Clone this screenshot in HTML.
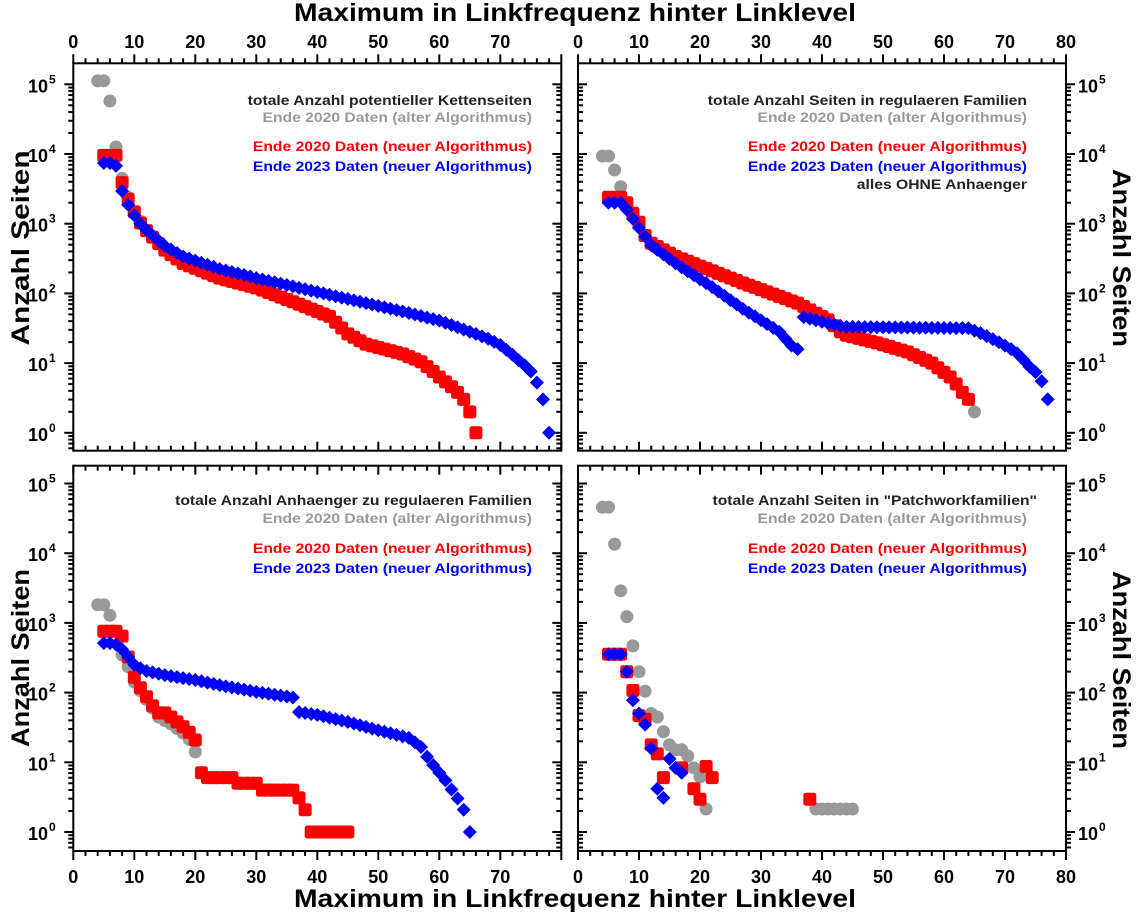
<!DOCTYPE html>
<html><head><meta charset="utf-8"><style>
html,body{margin:0;padding:0;background:#fff;}
svg{display:block;font-family:"Liberation Sans",sans-serif;font-weight:bold;}
</style></head><body>
<svg id="s" width="1136" height="916" viewBox="0 0 1136 916" xmlns="http://www.w3.org/2000/svg">
<text x="575" y="21" font-size="25" text-anchor="middle" textLength="562" lengthAdjust="spacingAndGlyphs">Maximum in Linkfrequenz hinter Linklevel</text>
<text x="575" y="907" font-size="25" text-anchor="middle" textLength="562" lengthAdjust="spacingAndGlyphs">Maximum in Linkfrequenz hinter Linklevel</text>
<text transform="translate(29,248) rotate(-90)" font-size="25" text-anchor="middle" textLength="195" lengthAdjust="spacingAndGlyphs">Anzahl Seiten</text>
<text transform="translate(29,658) rotate(-90)" font-size="25" text-anchor="middle" textLength="178" lengthAdjust="spacingAndGlyphs">Anzahl Seiten</text>
<text transform="translate(1113,258) rotate(90)" font-size="25" text-anchor="middle" textLength="178" lengthAdjust="spacingAndGlyphs">Anzahl Seiten</text>
<text transform="translate(1113,660) rotate(90)" font-size="25" text-anchor="middle" textLength="178" lengthAdjust="spacingAndGlyphs">Anzahl Seiten</text>
<g id="g"></g>
</svg>
<script>
var NS="http://www.w3.org/2000/svg",G=document.getElementById('g');
function el(t,a,txt){var e=document.createElementNS(NS,t);for(var k in a)e.setAttribute(k,a[k]);if(txt!=null)e.textContent=txt;G.appendChild(e);return e;}
var XU=6.1,DEC=69.7;
var P=[
 {x0:73.3,y0:63.3,y1:450.7,y10:432.8,top:1,left:1},
 {x0:578,y0:63.3,y1:450.7,y10:432.8,top:1,left:0},
 {x0:73.3,y0:465.7,y1:851,y10:832,top:0,left:1},
 {x0:578,y0:465.7,y1:851,y10:832,top:0,left:0}];
function line(x1,y1,x2,y2){el('line',{x1:x1,y1:y1,x2:x2,y2:y2,stroke:'#000','stroke-width':2});}
P.forEach(function(p,i){
 var x1=p.x0+80*XU;
 el('rect',{x:p.x0,y:p.y0,width:x1-p.x0,height:p.y1-p.y0,fill:'none',stroke:'#000','stroke-width':2});
 for(var v=0;v<=80;v+=2){var x=p.x0+v*XU,L=(v%10==0)?9:5;
  if(p.top){line(x,p.y0,x,p.y0-L);line(x,p.y1,x,p.y1-L);}
  else{line(x,p.y0,x,p.y0+L);line(x,p.y1,x,p.y1+L);}
  if(v%10==0 && !(p.left && v==80)){
   if(p.top) el('text',{x:x,y:48,'font-size':18,'text-anchor':'middle'},String(v));
   else el('text',{x:x,y:883,'font-size':18,'text-anchor':'middle'},String(v));
  }}
 for(var d=-1;d<=5;d++){for(var m=1;m<=9;m++){var y=p.y10-DEC*(d+Math.log10(m));
  if(y<p.y0+1||y>p.y1-1)continue;var L=(m==1)?9:5;
  if(p.left){line(p.x0,y,p.x0-L,y);line(x1,y,x1-L,y);}
  else{line(p.x0,y,p.x0+L,y);line(x1,y,x1+L,y);}
  if(m==1&&d>=0){
   if(p.left){el('text',{x:48,y:y+8,'font-size':18,'text-anchor':'end'},'10');el('text',{x:49,y:y-1,'font-size':12},String(d));}
   else{el('text',{x:1078,y:y+8,'font-size':18},'10');el('text',{x:1099,y:y-1,'font-size':12},String(d));}
  }}}
});
function gen(a){var out=[];for(var k=0;k<a.length-1;k++){var A=a[k],B=a[k+1];
 for(var x=A[0];x<B[0];x++){out.push([x,A[1]+(B[1]-A[1])*(x-A[0])/(B[0]-A[0])]);}}
 out.push(a[a.length-1]);return out;}
function pts(p,list,kind){list.forEach(function(q){var cx=p.x0+q[0]*XU,cy=p.y10-DEC*q[1];
 if(kind=='g')el('circle',{cx:cx,cy:cy,r:6.5,fill:'#999'});
 else if(kind=='r')el('rect',{x:cx-6.5,y:cy-6.5,width:13,height:13,rx:2.5,fill:'#f00'});
 else el('path',{d:'M'+cx+' '+(cy-7)+'L'+(cx+7)+' '+cy+'L'+cx+' '+(cy+7)+'L'+(cx-7)+' '+cy+'Z',fill:'#00f'});});}
// TL
pts(P[0],gen([[4,5.05],[5,5.05],[6,4.76],[7,4.10],[8,3.65],[9,3.38],[10,3.17],[12,2.9]]),'g');
pts(P[0],gen([[5,3.98],[7,3.98],[8,3.59],[9,3.35],[10,3.17],[11,3.01],[12,2.90],[15,2.62],[18,2.43],[24,2.22],[30,2.08],[36,1.88],[42,1.67],[45,1.42],[48,1.27],[54,1.13],[57,1.02],[59,0.88],[60,0.80],[62,0.66],[63,0.58],[64,0.48],[65,0.30],[66,0]]),'r');
pts(P[0],gen([[5,3.87],[6,3.87],[7,3.83],[8,3.47],[9,3.27],[10,3.12],[11,3.0],[12,2.91],[15,2.68],[18,2.53],[24,2.35],[30,2.22],[42,1.98],[54,1.74],[60,1.61],[65,1.45],[68,1.35],[70,1.26],[72,1.12],[73,1.04],[74,0.97],[75,0.88],[76,0.72],[77,0.48],[78,0]]),'b');
// TR
pts(P[1],gen([[4,3.97],[5,3.97],[6,3.77],[7,3.53],[8,3.3]]),'g');pts(P[1],[[65,0.30]],'g');
pts(P[1],gen([[5,3.38],[7,3.38],[8,3.3],[9,3.15],[10,3.02],[11,2.83],[12,2.72],[16,2.53],[27,2.15],[36,1.86],[41,1.62],[43,1.45],[44,1.40],[49,1.29],[54,1.16],[58,1.0],[61,0.80],[62,0.70],[63,0.58],[64,0.48]]),'r');
pts(P[1],gen([[5,3.30],[7,3.30],[8,3.2],[9,3.07],[10,2.94],[12,2.69],[16,2.43],[22,2.09],[27,1.78],[33,1.45],[34,1.35],[35,1.25],[36,1.20]]),'b');
pts(P[1],gen([[37,1.66],[41,1.57],[44,1.52],[64,1.50],[66,1.43],[69,1.30],[71,1.20],[72,1.14],[73,1.05],[74,0.95],[75,0.87],[76,0.74],[77,0.48]]),'b');
// BL
pts(P[2],gen([[4,3.26],[5,3.26],[6,3.11],[7,2.88],[8,2.54],[9,2.37],[10,2.15],[12,1.90],[14,1.65],[16,1.55],[18,1.42],[19,1.33],[20,1.15]]),'g');pts(P[2],[[37,0.49]],'g');
pts(P[2],[[5,2.88],[6,2.88],[7,2.88],[8,2.81],[9,2.51],[10,2.22],[11,2.07],[12,1.94],[13,1.81],[14,1.71],[15,1.71],[16,1.65],[17,1.58],[18,1.51],[19,1.43],[20,1.32],[21,0.85],[22,0.78],[23,0.78],[24,0.78],[25,0.78],[26,0.78],[27,0.70],[28,0.70],[29,0.70],[30,0.70],[31,0.60],[32,0.60],[33,0.60],[34,0.60],[35,0.60],[36,0.60],[37,0.49],[38,0.32],[39,0],[40,0],[41,0],[42,0],[43,0],[44,0],[45,0]],'r');
pts(P[2],gen([[5,2.71],[6,2.71],[7,2.69],[8,2.62],[9,2.51],[10,2.40],[11,2.35],[12,2.31],[15,2.25],[20,2.18],[25,2.09],[30,2.01],[36,1.93]]),'b');
pts(P[2],gen([[37,1.72],[40,1.68],[45,1.58],[50,1.46],[55,1.35],[57,1.22],[58,1.08],[59,0.96],[60,0.85],[61,0.74],[62,0.61],[63,0.48],[64,0.32],[65,0]]),'b');
// BR
pts(P[3],[[4,4.66],[5,4.66],[6,4.13],[7,3.46],[8,3.09],[9,2.67],[10,2.30],[11,2.02],[12,1.70],[13,1.65],[14,1.44],[15,1.25],[16,1.18],[17,1.18],[18,1.09],[19,0.92],[20,0.79],[21,0.33],[39,0.33],[40,0.33],[41,0.33],[42,0.33],[43,0.33],[44,0.33],[45,0.33]],'g');
pts(P[3],[[5,2.55],[6,2.55],[7,2.55],[8,2.30],[9,2.03],[10,1.67],[11,1.62],[12,1.25],[13,1.12],[14,0.78],[17,0.92],[19,0.62],[20,0.47],[21,0.94],[22,0.78],[38,0.47]],'r');
pts(P[3],[[5,2.55],[6,2.55],[7,2.55],[8,2.30],[9,1.89],[10,1.70],[11,1.54],[12,1.20],[13,0.62],[14,0.49],[15,1.05],[16,0.92],[17,0.85]],'b');
// legends
function leg(x,items){items.forEach(function(it){var t=el('text',{x:it[3]||x,y:it[0],'font-size':14,'text-anchor':'end',fill:it[2]},it[1]);
 try{var w=t.getComputedTextLength();if(w>0){t.setAttribute('textLength',(w*1.12).toFixed(1));t.setAttribute('lengthAdjust','spacingAndGlyphs');}}catch(e){}});}
leg(532,[[105,'totale Anzahl potentieller Kettenseiten','#222'],[122,'Ende 2020 Daten (alter Algorithmus)','#999'],[151,'Ende 2020 Daten (neuer Algorithmus)','#f00'],[171,'Ende 2023 Daten (neuer Algorithmus)','#00f']]);
leg(1027,[[105,'totale Anzahl Seiten in regulaeren Familien','#222'],[122,'Ende 2020 Daten (alter Algorithmus)','#999'],[151,'Ende 2020 Daten (neuer Algorithmus)','#f00'],[171,'Ende 2023 Daten (neuer Algorithmus)','#00f'],[189,'alles OHNE Anhaenger','#222']]);
leg(532,[[505,'totale Anzahl Anhaenger zu regulaeren Familien','#222'],[523,'Ende 2020 Daten (alter Algorithmus)','#999'],[553,'Ende 2020 Daten (neuer Algorithmus)','#f00'],[573,'Ende 2023 Daten (neuer Algorithmus)','#00f']]);
leg(1027,[[505,'totale Anzahl Seiten in "Patchworkfamilien"','#222',1037],[523,'Ende 2020 Daten (alter Algorithmus)','#999'],[553,'Ende 2020 Daten (neuer Algorithmus)','#f00'],[573,'Ende 2023 Daten (neuer Algorithmus)','#00f']]);
</script>
</body></html>
